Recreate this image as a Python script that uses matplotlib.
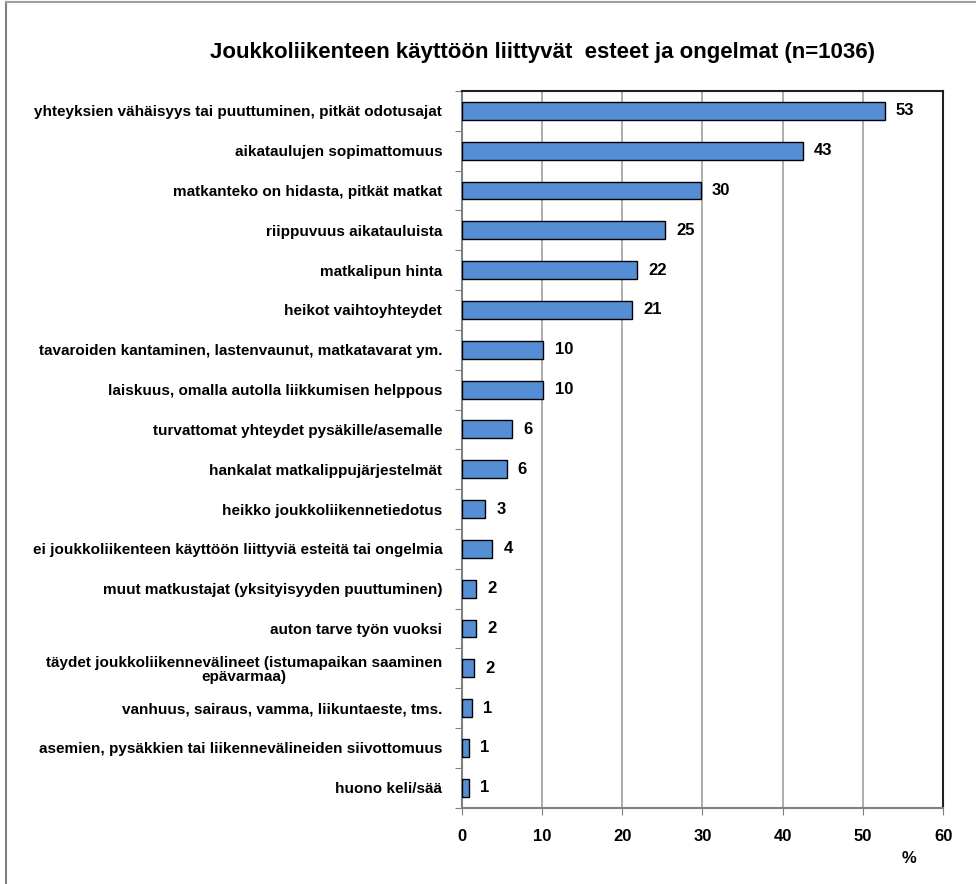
import matplotlib
matplotlib.use("Agg")
import matplotlib.pyplot as plt
from matplotlib.lines import Line2D

plt.rcParams['font.family'] = ['Liberation Sans', 'DejaVu Sans']

# categories from top to bottom
kategoriat = [
    "yhteyksien vähäisyys tai puuttuminen, pitkät odotusajat",
    "aikataulujen sopimattomuus",
    "matkanteko on hidasta, pitkät matkat",
    "riippuvuus aikatauluista",
    "matkalipun hinta",
    "heikot vaihtoyhteydet",
    "tavaroiden kantaminen, lastenvaunut, matkatavarat ym.",
    "laiskuus, omalla autolla liikkumisen helppous",
    "turvattomat yhteydet pysäkille/asemalle",
    "hankalat matkalippujärjestelmät",
    "heikko joukkoliikennetiedotus",
    "ei joukkoliikenteen käyttöön liittyviä esteitä tai ongelmia",
    "muut matkustajat (yksityisyyden puuttuminen)",
    "auton tarve työn vuoksi",
    "täydet joukkoliikennevälineet (istumapaikan saaminen\nepävarmaa)",
    "vanhuus, sairaus, vamma, liikuntaeste, tms.",
    "asemien, pysäkkien tai liikennevälineiden siivottomuus",
    "huono keli/sää",
]
# exact bar lengths and the rounded labels shown
arvot = [52.7, 42.5, 29.8, 25.4, 21.9, 21.2, 10.2, 10.2, 6.3, 5.6,
         2.9, 3.8, 1.8, 1.8, 1.6, 1.3, 0.9, 0.9]
nimikkeet = ["53", "43", "30", "25", "22", "21", "10", "10", "6", "6",
             "3", "4", "2", "2", "2", "1", "1", "1"]
xtikit = [0, 10, 20, 30, 40, 50, 60]

fig = plt.figure(figsize=(9.76, 8.84), dpi=100)
ax = fig.add_axes([0.473, 0.0863, 0.4933, 0.8108])

y = list(range(len(kategoriat)))
ax.barh(y, arvot, height=0.45, color="#558ED5", edgecolor="black",
        linewidth=1.0, zorder=3)
for yi, v, t in zip(y, arvot, nimikkeet):
    ax.text(v + 1.4, yi, t, va="center", ha="left", fontsize=12,
            fontweight="bold")

ax.set_ylim(len(kategoriat) - 0.5, -0.5)
ax.set_xlim(0, 60)
ax.set_xticks(xtikit)
ax.set_xticklabels([str(t) for t in xtikit], fontsize=12, fontweight="bold")
ax.set_yticks([i + 0.5 for i in range(-1, len(kategoriat))], minor=False)
ax.set_yticklabels([])
ax.set_yticks(y, minor=True)
ax.set_yticklabels(kategoriat, minor=True, fontsize=11, fontweight="bold",
                   ha="right", multialignment="center", linespacing=1.0)
ax.tick_params(axis="y", which="minor", length=0, pad=14)
ax.tick_params(axis="y", which="major", length=5, color="#808080",
               direction="out")
ax.tick_params(axis="x", length=5, color="#808080", pad=10)

ax.grid(axis="x", color="#A0A0A0", linewidth=1.2, zorder=0)
ax.spines["left"].set_color("#808080")
ax.spines["bottom"].set_color("#808080")
ax.spines["left"].set_linewidth(1.5)
ax.spines["bottom"].set_linewidth(1.5)
ax.spines["top"].set_color("#202020")
ax.spines["right"].set_color("#202020")
ax.spines["top"].set_linewidth(1.5)
ax.spines["right"].set_linewidth(1.5)

ax.text(0.931, 0.029, "%", transform=fig.transFigure, fontsize=12,
        fontweight="bold", ha="center", va="center")

fig.text(0.556, 0.941, "Joukkoliikenteen käyttöön liittyvät  esteet ja ongelmat (n=1036)",
         ha="center", va="center", fontsize=16, fontweight="bold")

# outer chart frame (left and top only visible)
fig.add_artist(Line2D([0.0062, 0.0062], [0.0, 0.9977], color="#808080",
                      linewidth=1.5, transform=fig.transFigure))
fig.add_artist(Line2D([0.0062, 1.0], [0.9977, 0.9977], color="#A0A0A0",
                      linewidth=1.5, transform=fig.transFigure))

fig.savefig("out.png", dpi=100)
